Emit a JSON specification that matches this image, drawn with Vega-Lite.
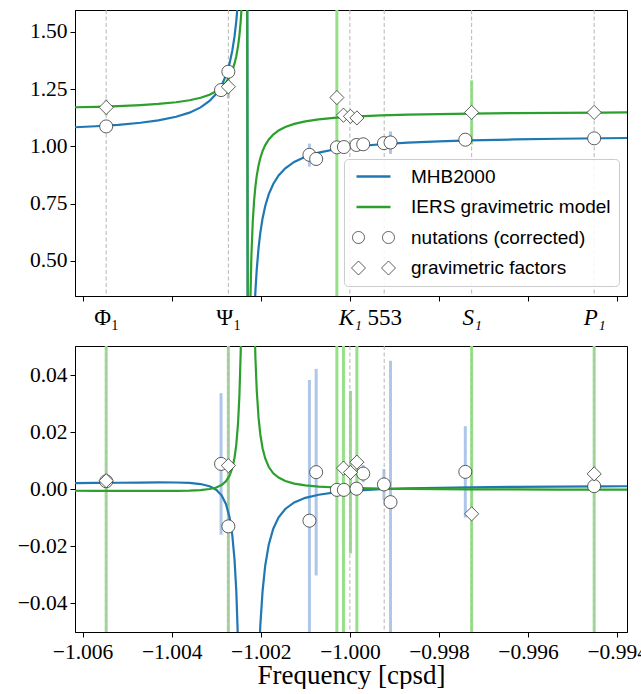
{
  "$schema": "https://vega.github.io/schema/vega-lite/v6.json",
  "background": "white",
  "padding": {"left": 16, "top": 9, "right": 0, "bottom": 0},
  "config": {
    "view": {"stroke": "black", "strokeWidth": 1},
    "axis": {"labelFont": "Liberation Serif", "labelFontSize": 21.5, "labelColor": "black", "tickColor": "black", "domainColor": "black", "tickSize": 5, "tickWidth": 1, "domainWidth": 1, "labelPadding": 3, "grid": false, "titleFont": "Liberation Serif", "titleFontSize": 27, "titleFontWeight": "normal", "titleColor": "black", "labelOverlap": false, "labelFlush": false, "labelBound": false},
    "legend": {"labelFont": "Liberation Sans", "labelFontSize": 19, "labelColor": "black", "labelLimit": 400}
  },
  "datasets": {
    "curves": [
      {"x": -1.0062, "series": "MHB2000", "re": 1.0831, "im": 0.00216},
      {"x": -1.0057, "series": "MHB2000", "re": 1.0878, "im": 0.00222},
      {"x": -1.0052, "series": "MHB2000", "re": 1.0941, "im": 0.00229},
      {"x": -1.0047, "series": "MHB2000", "re": 1.1031, "im": 0.00236},
      {"x": -1.0043, "series": "MHB2000", "re": 1.1135, "im": 0.0024},
      {"x": -1.0039, "series": "MHB2000", "re": 1.1291, "im": 0.00237},
      {"x": -1.0036, "series": "MHB2000", "re": 1.1472, "im": 0.00222},
      {"x": -1.00335, "series": "MHB2000", "re": 1.170, "im": 0.00184},
      {"x": -1.00315, "series": "MHB2000", "re": 1.1979, "im": 0.00108},
      {"x": -1.003, "series": "MHB2000", "re": 1.2293, "im": -0.00016},
      {"x": -1.00288, "series": "MHB2000", "re": 1.2661, "im": -0.00212},
      {"x": -1.00278, "series": "MHB2000", "re": 1.3107, "im": -0.00524},
      {"x": -1.0027, "series": "MHB2000", "re": 1.3622, "im": -0.00988},
      {"x": -1.00264, "series": "MHB2000", "re": 1.4166, "im": -0.01597},
      {"x": -1.00259, "series": "MHB2000", "re": 1.4788, "im": -0.02446},
      {"x": -1.00255, "series": "MHB2000", "re": 1.5459, "im": -0.03548},
      {"x": -1.00251, "series": "MHB2000", "re": 1.6377, "im": -0.0537},
      {"x": -1.00248, "series": "MHB2000", "re": 1.7319, "im": -0.0763},
      {"x": -1.00245, "series": "MHB2000", "re": 1.8611, "im": -0.114},
      {"x": -1.00242, "series": "MHB2000", "re": 2.048, "im": -0.1829},
      {"x": -1.00239, "series": "MHB2000", "re": 2.3374, "im": -0.3274},
      {"x": -1.00236, "series": "MHB2000", "re": 2.8178, "im": -0.6998},
      {"x": -1.00234, "series": "MHB2000", "re": 3.278, "im": -1.355},
      {"x": -1.002325, "series": "MHB2000", "re": 3.5116, "im": -2.4359},
      {"x": -1.00231, "series": "MHB2000", "re": 2.7289, "im": -4.2215},
      {"x": -1.00229, "series": "MHB2000", "re": -0.6269, "im": -4.3123},
      {"x": -1.002275, "series": "MHB2000", "re": -1.4096, "im": -2.569},
      {"x": -1.00226, "series": "MHB2000", "re": -1.176, "im": -1.4751},
      {"x": -1.00224, "series": "MHB2000", "re": -0.7158, "im": -0.7954},
      {"x": -1.00221, "series": "MHB2000", "re": -0.2354, "im": -0.3969},
      {"x": -1.00218, "series": "MHB2000", "re": 0.054, "im": -0.2368},
      {"x": -1.00215, "series": "MHB2000", "re": 0.2409, "im": -0.1578},
      {"x": -1.00212, "series": "MHB2000", "re": 0.3701, "im": -0.1131},
      {"x": -1.00209, "series": "MHB2000", "re": 0.4643, "im": -0.0854},
      {"x": -1.00205, "series": "MHB2000", "re": 0.5561, "im": -0.0622},
      {"x": -1.00201, "series": "MHB2000", "re": 0.6232, "im": -0.0476},
      {"x": -1.00196, "series": "MHB2000", "re": 0.6854, "im": -0.0357},
      {"x": -1.0019, "series": "MHB2000", "re": 0.7398, "im": -0.0267},
      {"x": -1.00182, "series": "MHB2000", "re": 0.7913, "im": -0.0193},
      {"x": -1.00172, "series": "MHB2000", "re": 0.8359, "im": -0.0138},
      {"x": -1.0016, "series": "MHB2000", "re": 0.8727, "im": -0.0098},
      {"x": -1.00145, "series": "MHB2000", "re": 0.9041, "im": -0.0069},
      {"x": -1.00125, "series": "MHB2000", "re": 0.932, "im": -0.0046},
      {"x": -1.001, "series": "MHB2000", "re": 0.9549, "im": -0.003},
      {"x": -1.0007, "series": "MHB2000", "re": 0.9729, "im": -0.0019},
      {"x": -1.0003, "series": "MHB2000", "re": 0.9885, "im": -0.00099},
      {"x": -0.9998, "series": "MHB2000", "re": 1.001, "im": -0.00036},
      {"x": -0.9993, "series": "MHB2000", "re": 1.0093, "im": 0.00002},
      {"x": -0.9987, "series": "MHB2000", "re": 1.0163, "im": 0.00032},
      {"x": -0.998, "series": "MHB2000", "re": 1.0219, "im": 0.00054},
      {"x": -0.9973, "series": "MHB2000", "re": 1.026, "im": 0.0007},
      {"x": -0.9963, "series": "MHB2000", "re": 1.0302, "im": 0.00085},
      {"x": -0.9953, "series": "MHB2000", "re": 1.0331, "im": 0.00095},
      {"x": -0.9943, "series": "MHB2000", "re": 1.0354, "im": 0.00103},
      {"x": -0.9937, "series": "MHB2000", "re": 1.0365, "im": 0.00106},
      {"x": -1.0062, "series": "IERS gravimetric model", "re": 1.1704, "im": -0.00052},
      {"x": -1.0057, "series": "IERS gravimetric model", "re": 1.1726, "im": -0.00054},
      {"x": -1.0052, "series": "IERS gravimetric model", "re": 1.1757, "im": -0.00056},
      {"x": -1.0047, "series": "IERS gravimetric model", "re": 1.18, "im": -0.00057},
      {"x": -1.0043, "series": "IERS gravimetric model", "re": 1.185, "im": -0.00058},
      {"x": -1.0039, "series": "IERS gravimetric model", "re": 1.1925, "im": -0.00054},
      {"x": -1.0036, "series": "IERS gravimetric model", "re": 1.2012, "im": -0.00045},
      {"x": -1.00335, "series": "IERS gravimetric model", "re": 1.2121, "im": -0.00026},
      {"x": -1.00315, "series": "IERS gravimetric model", "re": 1.2255, "im": 0.00009},
      {"x": -1.003, "series": "IERS gravimetric model", "re": 1.2406, "im": 0.00064},
      {"x": -1.00288, "series": "IERS gravimetric model", "re": 1.2583, "im": 0.00149},
      {"x": -1.00278, "series": "IERS gravimetric model", "re": 1.2797, "im": 0.00284},
      {"x": -1.0027, "series": "IERS gravimetric model", "re": 1.3046, "im": 0.00481},
      {"x": -1.00264, "series": "IERS gravimetric model", "re": 1.3307, "im": 0.00738},
      {"x": -1.00259, "series": "IERS gravimetric model", "re": 1.3607, "im": 0.01096},
      {"x": -1.00255, "series": "IERS gravimetric model", "re": 1.3932, "im": 0.01558},
      {"x": -1.00251, "series": "IERS gravimetric model", "re": 1.4376, "im": 0.02321},
      {"x": -1.00248, "series": "IERS gravimetric model", "re": 1.4835, "im": 0.03267},
      {"x": -1.00245, "series": "IERS gravimetric model", "re": 1.5466, "im": 0.04844},
      {"x": -1.00242, "series": "IERS gravimetric model", "re": 1.6389, "im": 0.0774},
      {"x": -1.00239, "series": "IERS gravimetric model", "re": 1.7844, "im": 0.1386},
      {"x": -1.00236, "series": "IERS gravimetric model", "re": 2.0374, "im": 0.3007},
      {"x": -1.00234, "series": "IERS gravimetric model", "re": 2.3088, "im": 0.6016},
      {"x": -1.002325, "series": "IERS gravimetric model", "re": 2.5125, "im": 1.149},
      {"x": -1.00231, "series": "IERS gravimetric model", "re": 2.1895, "im": 2.2204},
      {"x": -1.00229, "series": "IERS gravimetric model", "re": 0.1205, "im": 2.2617},
      {"x": -1.002275, "series": "IERS gravimetric model", "re": -0.2025, "im": 1.2033},
      {"x": -1.00226, "series": "IERS gravimetric model", "re": 0.0012, "im": 0.6478},
      {"x": -1.00224, "series": "IERS gravimetric model", "re": 0.2727, "im": 0.336},
      {"x": -1.00221, "series": "IERS gravimetric model", "re": 0.5256, "im": 0.1638},
      {"x": -1.00218, "series": "IERS gravimetric model", "re": 0.6711, "im": 0.0967},
      {"x": -1.00215, "series": "IERS gravimetric model", "re": 0.7634, "im": 0.0641},
      {"x": -1.00212, "series": "IERS gravimetric model", "re": 0.8265, "im": 0.0458},
      {"x": -1.00209, "series": "IERS gravimetric model", "re": 0.8724, "im": 0.0345},
      {"x": -1.00205, "series": "IERS gravimetric model", "re": 0.9168, "im": 0.0251},
      {"x": -1.00201, "series": "IERS gravimetric model", "re": 0.9493, "im": 0.0192},
      {"x": -1.00196, "series": "IERS gravimetric model", "re": 0.9793, "im": 0.0144},
      {"x": -1.0019, "series": "IERS gravimetric model", "re": 1.0055, "im": 0.0108},
      {"x": -1.00182, "series": "IERS gravimetric model", "re": 1.0303, "im": 0.0078},
      {"x": -1.00172, "series": "IERS gravimetric model", "re": 1.0517, "im": 0.0056},
      {"x": -1.0016, "series": "IERS gravimetric model", "re": 1.0694, "im": 0.0041},
      {"x": -1.00145, "series": "IERS gravimetric model", "re": 1.0845, "im": 0.0029},
      {"x": -1.00125, "series": "IERS gravimetric model", "re": 1.0979, "im": 0.002},
      {"x": -1.001, "series": "IERS gravimetric model", "re": 1.1089, "im": 0.0014},
      {"x": -1.0007, "series": "IERS gravimetric model", "re": 1.1175, "im": 0.00096},
      {"x": -1.0003, "series": "IERS gravimetric model", "re": 1.125, "im": 0.00063},
      {"x": -0.9998, "series": "IERS gravimetric model", "re": 1.131, "im": 0.00039},
      {"x": -0.9993, "series": "IERS gravimetric model", "re": 1.135, "im": 0.00024},
      {"x": -0.9987, "series": "IERS gravimetric model", "re": 1.1383, "im": 0.00013},
      {"x": -0.998, "series": "IERS gravimetric model", "re": 1.141, "im": 0.00005},
      {"x": -0.9973, "series": "IERS gravimetric model", "re": 1.143, "im": -0.00001},
      {"x": -0.9963, "series": "IERS gravimetric model", "re": 1.145, "im": -0.00006},
      {"x": -0.9953, "series": "IERS gravimetric model", "re": 1.1464, "im": -0.0001},
      {"x": -0.9943, "series": "IERS gravimetric model", "re": 1.1475, "im": -0.00013},
      {"x": -0.9937, "series": "IERS gravimetric model", "re": 1.148, "im": -0.00014}
    ],
    "pts": [
      {"x": -1.00547, "series": "nutations (corrected)", "re": 1.087, "im": 0.0028},
      {"x": -1.002892, "series": "nutations (corrected)", "re": 1.2456, "im": 0.0089},
      {"x": -1.002728, "series": "nutations (corrected)", "re": 1.3256, "im": -0.013},
      {"x": -1.000908, "series": "nutations (corrected)", "re": 0.963, "im": -0.011},
      {"x": -1.000757, "series": "nutations (corrected)", "re": 0.945, "im": 0.006},
      {"x": -1.000292, "series": "nutations (corrected)", "re": 0.9956, "im": -0.0002},
      {"x": -1.000135, "series": "nutations (corrected)", "re": 0.997, "im": -0.0002},
      {"x": -0.999852, "series": "nutations (corrected)", "re": 1.006, "im": 0.0002},
      {"x": -0.999701, "series": "nutations (corrected)", "re": 1.009, "im": 0.0055},
      {"x": -0.999236, "series": "nutations (corrected)", "re": 1.014, "im": 0.0017},
      {"x": -0.999088, "series": "nutations (corrected)", "re": 1.017, "im": -0.0045},
      {"x": -0.997409, "series": "nutations (corrected)", "re": 1.029, "im": 0.0061},
      {"x": -0.994517, "series": "nutations (corrected)", "re": 1.035, "im": 0.0011},
      {"x": -1.00547, "series": "gravimetric factors", "re": 1.17, "im": 0.003},
      {"x": -1.002728, "series": "gravimetric factors", "re": 1.26, "im": 0.0083},
      {"x": -1.000292, "series": "gravimetric factors", "re": 1.213, "im": 0.07},
      {"x": -1.000144, "series": "gravimetric factors", "re": 1.136, "im": 0.0074},
      {"x": -0.999987, "series": "gravimetric factors", "re": 1.131, "im": 0.0059},
      {"x": -0.999843, "series": "gravimetric factors", "re": 1.124, "im": 0.0095},
      {"x": -0.997267, "series": "gravimetric factors", "re": 1.148, "im": -0.0086},
      {"x": -0.994517, "series": "gravimetric factors", "re": 1.148, "im": 0.0054}
    ],
    "err": [
      {"x": -1.000908, "etype": "nutations (corrected)", "part": "re", "lo": 0.912, "hi": 1.012},
      {"x": -1.000757, "etype": "nutations (corrected)", "part": "re", "lo": 0.915, "hi": 0.975},
      {"x": -0.999088, "etype": "nutations (corrected)", "part": "re", "lo": 0.967, "hi": 1.065},
      {"x": -1.00547, "etype": "gravimetric factors", "part": "re", "lo": 1.135, "hi": 1.205},
      {"x": -1.002728, "etype": "gravimetric factors", "part": "re", "lo": 1.21, "hi": 1.31},
      {"x": -1.000292, "etype": "gravimetric factors", "part": "re", "lo": -3.8, "hi": 6.2},
      {"x": -0.997267, "etype": "gravimetric factors", "part": "re", "lo": 1.008, "hi": 1.288},
      {"x": -1.002892, "etype": "nutations (corrected)", "part": "im", "lo": -0.0159, "hi": 0.0337},
      {"x": -1.000908, "etype": "nutations (corrected)", "part": "im", "lo": -0.0607, "hi": 0.0383},
      {"x": -1.000757, "etype": "nutations (corrected)", "part": "im", "lo": -0.0302, "hi": 0.0422},
      {"x": -0.999701, "etype": "nutations (corrected)", "part": "im", "lo": 0.0025, "hi": 0.0085},
      {"x": -0.999236, "etype": "nutations (corrected)", "part": "im", "lo": -0.0039, "hi": 0.0071},
      {"x": -0.999088, "etype": "nutations (corrected)", "part": "im", "lo": -0.054, "hi": 0.045},
      {"x": -0.997409, "etype": "nutations (corrected)", "part": "im", "lo": -0.0099, "hi": 0.0221},
      {"x": -1.00547, "etype": "gravimetric factors", "part": "im", "lo": -1, "hi": 1},
      {"x": -1.002728, "etype": "gravimetric factors", "part": "im", "lo": -1, "hi": 1},
      {"x": -1.000292, "etype": "gravimetric factors", "part": "im", "lo": -1, "hi": 1},
      {"x": -1.000144, "etype": "gravimetric factors", "part": "im", "lo": -1, "hi": 1},
      {"x": -0.999987, "etype": "gravimetric factors", "part": "im", "lo": -0.0225, "hi": 0.0345},
      {"x": -0.999843, "etype": "gravimetric factors", "part": "im", "lo": -1, "hi": 1},
      {"x": -0.997267, "etype": "gravimetric factors", "part": "im", "lo": -1, "hi": 1},
      {"x": -0.994517, "etype": "gravimetric factors", "part": "im", "lo": -1, "hi": 1}
    ],
    "tides": [
      {"x": -1.00547, "name": "Phi1"},
      {"x": -1.002728, "name": "Psi1"},
      {"x": -1.0, "name": "K1"},
      {"x": -0.99923, "name": "553"},
      {"x": -0.997267, "name": "S1"},
      {"x": -0.994517, "name": "P1"}
    ]
  },
  "vconcat": [
    {
      "width": 552,
      "height": 286,
      "layer": [
        {
          "data": {"name": "err"},
          "transform": [{"filter": "datum.part === 're'"}],
          "mark": {"type": "rule", "strokeWidth": 3, "clip": true},
          "encoding": {
            "x": {"field": "x", "type": "quantitative", "title": null, "scale": {"domain": [-1.00617, -0.99378], "nice": false, "zero": false},
              "axis": {
                "values": [-1.006, -1.004, -1.002, -1.0, -0.998, -0.996, -0.994, -1.00547, -1.002728, -0.99923, -0.997267, -0.994517],
                "labelExpr": "abs(datum.value + 1) < 0.000001 ? 'K₁' : abs(datum.value * 500 - round(datum.value * 500)) < 0.001 ? '' : datum.value < -1.005 ? 'Φ₁' : datum.value < -1.002 ? 'Ψ₁' : datum.value < -0.999 ? '553' : datum.value < -0.996 ? 'S₁' : 'P₁'",
                "tickOpacity": {"condition": {"test": "abs(datum.value * 500 - round(datum.value * 500)) > 0.001", "value": 0}, "value": 1},
                "labelFontStyle": {"condition": {"test": "abs(datum.value + 1) < 0.000001 || abs(datum.value + 0.997267) < 0.000001 || abs(datum.value + 0.994517) < 0.000001", "value": "italic"}, "value": "normal"},
                "labelFontSize": 23,
                "labelPadding": 5
              }
            },
            "y": {"field": "lo", "type": "quantitative", "title": null, "scale": {"domain": [0.347, 1.595], "nice": false, "zero": false},
              "axis": {"values": [0.5, 0.75, 1.0, 1.25, 1.5], "format": ".2f"}},
            "y2": {"field": "hi"},
            "color": {"field": "etype", "type": "nominal",
              "scale": {"domain": ["_a", "_b", "nutations (corrected)", "gravimetric factors"], "range": ["rgba(0,0,0,0)", "rgba(0,0,0,0)", "#aec7e8", "#98df8a"]},
              "legend": null}
          }
        },
        {
          "data": {"name": "tides"},
          "mark": {"type": "rule", "stroke": "#b5b5b5", "strokeWidth": 1, "strokeDash": [4, 2.5]},
          "encoding": {
            "x": {"field": "x", "type": "quantitative", "title": null, "scale": {"domain": [-1.00617, -0.99378], "nice": false, "zero": false}}
          }
        },
        {
          "data": {"name": "curves"},
          "transform": [{"filter": "datum.series === 'MHB2000'"}],
          "mark": {"type": "line", "strokeWidth": 2.2, "clip": true},
          "encoding": {
            "x": {"field": "x", "type": "quantitative", "title": null, "scale": {"domain": [-1.00617, -0.99378], "nice": false, "zero": false}},
            "y": {"field": "re", "type": "quantitative", "title": null, "scale": {"domain": [0.347, 1.595], "nice": false, "zero": false}},
            "stroke": {"field": "series", "type": "nominal",
              "scale": {"domain": ["MHB2000", "IERS gravimetric model", "nutations (corrected)", "gravimetric factors"], "range": ["#1f77b4", "#2ca02c", "#333333", "#333333"]},
              "legend": {"orient": "none", "legendX": 269, "legendY": 149, "title": null, "padding": 8, "symbolOffset": 12, "symbolSize": 400, "labelOffset": 28, "rowPadding": 10.5, "labelFontSize": 19, "fillColor": "rgba(255,255,255,0.85)", "strokeColor": "#cccccc", "cornerRadius": 4, "zindex": 2,
                "encode": {"symbols": {"update": {
                  "shape": {"signal": "datum.value === 'nutations (corrected)' ? 'M -0.9,0 A 0.6,0.6 0 1,1 -2.1,0 A 0.6,0.6 0 1,1 -0.9,0 Z M 2.1,0 A 0.6,0.6 0 1,1 0.9,0 A 0.6,0.6 0 1,1 2.1,0 Z' : datum.value === 'gravimetric factors' ? 'M -1.5,-0.7 L -0.8,0 L -1.5,0.7 L -2.2,0 Z M 1.5,-0.7 L 2.2,0 L 1.5,0.7 L 0.8,0 Z' : 'M -1.7,0 L 1.7,0'"},
                  "size": {"value": 400},
                  "fill": {"signal": "datum.value === 'nutations (corrected)' || datum.value === 'gravimetric factors' ? 'white' : 'transparent'"},
                  "strokeWidth": {"signal": "datum.value === 'nutations (corrected)' || datum.value === 'gravimetric factors' ? 0.8 : 2.5"},
                  "opacity": {"value": 1}
                }}}
              }
            }
          }
        },
        {
          "data": {"name": "curves"},
          "transform": [{"filter": "datum.series === 'IERS gravimetric model'"}],
          "mark": {"type": "line", "strokeWidth": 2.2, "clip": true},
          "encoding": {
            "x": {"field": "x", "type": "quantitative", "title": null, "scale": {"domain": [-1.00617, -0.99378], "nice": false, "zero": false}},
            "y": {"field": "re", "type": "quantitative", "title": null, "scale": {"domain": [0.347, 1.595], "nice": false, "zero": false}},
            "stroke": {"field": "series", "type": "nominal",
              "scale": {"domain": ["MHB2000", "IERS gravimetric model", "nutations (corrected)", "gravimetric factors"], "range": ["#1f77b4", "#2ca02c", "#333333", "#333333"]}}
          }
        },
        {
          "data": {"name": "pts"},
          "transform": [{"filter": "datum.series === 'nutations (corrected)'"}],
          "mark": {"type": "point", "shape": "circle", "size": 170, "filled": true, "fill": "white", "stroke": "#333333", "strokeWidth": 0.8, "opacity": 1, "clip": true},
          "encoding": {
            "x": {"field": "x", "type": "quantitative", "title": null, "scale": {"domain": [-1.00617, -0.99378], "nice": false, "zero": false}},
            "y": {"field": "re", "type": "quantitative", "title": null, "scale": {"domain": [0.347, 1.595], "nice": false, "zero": false}}
          }
        },
        {
          "data": {"name": "pts"},
          "transform": [{"filter": "datum.series === 'gravimetric factors'"}],
          "mark": {"type": "point", "shape": "diamond", "size": 200, "filled": true, "fill": "white", "stroke": "#333333", "strokeWidth": 0.8, "opacity": 1, "clip": true},
          "encoding": {
            "x": {"field": "x", "type": "quantitative", "title": null, "scale": {"domain": [-1.00617, -0.99378], "nice": false, "zero": false}},
            "y": {"field": "re", "type": "quantitative", "title": null, "scale": {"domain": [0.347, 1.595], "nice": false, "zero": false}}
          }
        }
      ]
    },
    {
      "width": 552,
      "height": 286,
      "layer": [
        {
          "data": {"name": "err"},
          "transform": [{"filter": "datum.part === 'im'"}],
          "mark": {"type": "rule", "strokeWidth": 3, "clip": true},
          "encoding": {
            "x": {"field": "x", "type": "quantitative", "title": "Frequency [cpsd]", "scale": {"domain": [-1.00617, -0.99378], "nice": false, "zero": false},
              "axis": {"values": [-1.006, -1.004, -1.002, -1.0, -0.998, -0.996, -0.994], "labelExpr": "replace(format(datum.value, '.3f'), '-', '−')", "labelPadding": 4, "titlePadding": 0}},
            "y": {"field": "lo", "type": "quantitative", "title": null, "scale": {"domain": [-0.05, 0.0502], "nice": false, "zero": false},
              "axis": {"values": [-0.04, -0.02, 0, 0.02, 0.04], "labelExpr": "replace(format(datum.value, '.2f'), '-', '−')"}},
            "y2": {"field": "hi"},
            "color": {"field": "etype", "type": "nominal",
              "scale": {"domain": ["_a", "_b", "nutations (corrected)", "gravimetric factors"], "range": ["rgba(0,0,0,0)", "rgba(0,0,0,0)", "#aec7e8", "#98df8a"]},
              "legend": null}
          }
        },
        {
          "data": {"name": "tides"},
          "mark": {"type": "rule", "stroke": "#b5b5b5", "strokeWidth": 1, "strokeDash": [4, 2.5]},
          "encoding": {
            "x": {"field": "x", "type": "quantitative", "title": "Frequency [cpsd]", "scale": {"domain": [-1.00617, -0.99378], "nice": false, "zero": false}}
          }
        },
        {
          "data": {"name": "curves"},
          "transform": [{"filter": "datum.series === 'MHB2000'"}],
          "mark": {"type": "line", "strokeWidth": 2.2, "clip": true},
          "encoding": {
            "x": {"field": "x", "type": "quantitative", "title": "Frequency [cpsd]", "scale": {"domain": [-1.00617, -0.99378], "nice": false, "zero": false}},
            "y": {"field": "im", "type": "quantitative", "title": null, "scale": {"domain": [-0.05, 0.0502], "nice": false, "zero": false}},
            "stroke": {"field": "series", "type": "nominal",
              "scale": {"domain": ["MHB2000", "IERS gravimetric model", "nutations (corrected)", "gravimetric factors"], "range": ["#1f77b4", "#2ca02c", "#333333", "#333333"]}, "legend": null}
          }
        },
        {
          "data": {"name": "curves"},
          "transform": [{"filter": "datum.series === 'IERS gravimetric model'"}],
          "mark": {"type": "line", "strokeWidth": 2.2, "clip": true},
          "encoding": {
            "x": {"field": "x", "type": "quantitative", "title": "Frequency [cpsd]", "scale": {"domain": [-1.00617, -0.99378], "nice": false, "zero": false}},
            "y": {"field": "im", "type": "quantitative", "title": null, "scale": {"domain": [-0.05, 0.0502], "nice": false, "zero": false}},
            "stroke": {"field": "series", "type": "nominal",
              "scale": {"domain": ["MHB2000", "IERS gravimetric model", "nutations (corrected)", "gravimetric factors"], "range": ["#1f77b4", "#2ca02c", "#333333", "#333333"]}, "legend": null}
          }
        },
        {
          "data": {"name": "pts"},
          "transform": [{"filter": "datum.series === 'nutations (corrected)'"}],
          "mark": {"type": "point", "shape": "circle", "size": 170, "filled": true, "fill": "white", "stroke": "#333333", "strokeWidth": 0.8, "opacity": 1, "clip": true},
          "encoding": {
            "x": {"field": "x", "type": "quantitative", "title": "Frequency [cpsd]", "scale": {"domain": [-1.00617, -0.99378], "nice": false, "zero": false}},
            "y": {"field": "im", "type": "quantitative", "title": null, "scale": {"domain": [-0.05, 0.0502], "nice": false, "zero": false}}
          }
        },
        {
          "data": {"name": "pts"},
          "transform": [{"filter": "datum.series === 'gravimetric factors'"}],
          "mark": {"type": "point", "shape": "diamond", "size": 200, "filled": true, "fill": "white", "stroke": "#333333", "strokeWidth": 0.8, "opacity": 1, "clip": true},
          "encoding": {
            "x": {"field": "x", "type": "quantitative", "title": "Frequency [cpsd]", "scale": {"domain": [-1.00617, -0.99378], "nice": false, "zero": false}},
            "y": {"field": "im", "type": "quantitative", "title": null, "scale": {"domain": [-0.05, 0.0502], "nice": false, "zero": false}}
          }
        }
      ]
    }
  ],
  "spacing": 50,
  "bounds": "flush",
  "resolve": {"scale": {"color": "independent", "stroke": "independent"}, "legend": {"color": "independent", "stroke": "independent"}}
}
